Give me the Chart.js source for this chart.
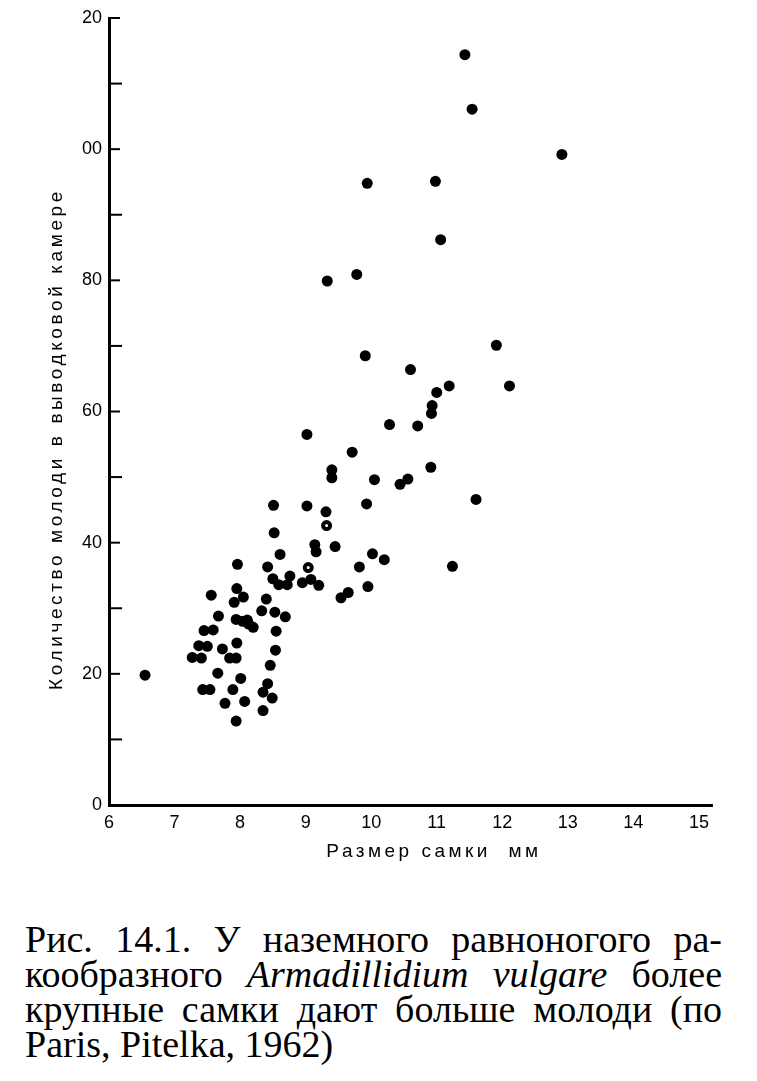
<!DOCTYPE html>
<html>
<head>
<meta charset="utf-8">
<script src="https://cdn.jsdelivr.net/npm/chart.js@4.4.1/dist/chart.umd.min.js"></script>
<style>
    body { margin: 0; background: #fff; }
    #pagina { position: relative; width: 757px; height: 1081px; }
    #caixaGrafico { position: absolute; left: 0; top: 0; width: 757px; height: 880px; }
    .legenda {
        position: absolute; left: 25px; top: 922px; width: 697px;
        font-family: 'Liberation Serif', serif; font-size: 38px; line-height: 35px; color: #000;
    }
    .linha { text-align: justify; text-align-last: justify; }
</style>
</head>
<body>
<div id="pagina">
    <div id="caixaGrafico"><canvas id="grafico"></canvas></div>
    <div class="legenda">
        <div class="linha">Рис. 14.1. У наземного равноногого ра-</div>
        <div class="linha">кообразного <i>Armadillidium vulgare</i> более</div>
        <div class="linha">крупные самки дают больше молоди (по</div>
        <div>Paris, Pitelka, 1962)</div>
    </div>
</div>
<script>
// tamanho da femea (mm) e numero de filhotes na camara de incubacao
const tamanho = [
    11.43, 11.54, 12.91, 9.94, 10.98, 11.06, 9.33, 9.78, 11.91, 9.91,
    10.6, 11.19, 12.11, 11.0, 10.93, 10.92, 10.28, 10.71, 9.02, 9.71,
    10.91, 9.4, 9.4, 10.05, 10.56, 10.44, 9.93, 11.6, 8.51, 9.02,
    9.31, 8.52, 9.14, 9.16, 9.45, 8.61, 10.02, 10.2, 9.82, 11.24,
    8.42, 8.5, 8.59, 8.76, 8.72, 8.95, 9.2, 9.95, 9.65, 9.54,
    8.4, 7.96, 7.95, 8.05, 7.91, 7.56, 8.33, 8.53, 8.69, 7.67,
    7.94, 8.04, 8.11, 8.13, 8.2, 8.55, 7.45, 7.59, 7.95, 7.37,
    7.5, 7.73, 8.54, 7.27, 7.41, 7.84, 7.94, 8.46, 6.55, 7.66,
    8.01, 8.42, 7.43, 7.54, 7.89, 8.35, 8.49, 7.77, 8.07, 8.35,
    7.94, 9.08
];
const filhotes = [
    114.4, 106.1, 99.2, 94.8, 95.1, 86.2, 79.9, 80.9, 70.1, 68.5,
    66.4, 63.9, 63.9, 62.9, 60.9, 59.7, 58.0, 57.8, 56.5, 53.8,
    51.5, 51.1, 49.9, 49.6, 49.7, 48.9, 45.9, 46.6, 45.7, 45.6,
    44.7, 41.5, 39.7, 38.6, 39.4, 38.2, 38.3, 37.4, 36.3, 36.4,
    36.3, 34.5, 33.6, 34.9, 33.6, 33.9, 33.5, 33.3, 32.4, 31.6,
    31.4, 36.7, 33.0, 31.7, 30.9, 32.0, 29.6, 29.4, 28.7, 28.8,
    28.3, 28.0, 28.2, 27.6, 27.1, 26.5, 26.6, 26.7, 24.7, 24.3,
    24.2, 23.8, 23.6, 22.5, 22.4, 22.4, 22.4, 21.3, 19.8, 20.1,
    19.3, 18.5, 17.6, 17.6, 17.6, 17.2, 16.3, 15.5, 15.8, 14.4,
    12.8, 34.4
];
// pontos vazados
const tamanhoVazado = [9.32, 9.04];
const filhotesVazado = [42.6, 36.2];

const ticksX = [6, 7, 8, 9, 10, 11, 12, 13, 14, 15];
const rotulosX = ['6', '7', '8', '9', '10', '11', '12', '13', '14', '15'];
const ticksY = [0, 20, 40, 60, 80, 100, 120];
const rotulosY = ['0', '20', '40', '60', '80', '00', '20'];
const marcasMenoresY = [10, 30, 50, 70, 90, 110];

const tituloX = 'Размер самки  мм';
const tituloY = 'Количество молоди в выводковой камере';

Chart.defaults.font.family = "'Liberation Sans', sans-serif";
Chart.defaults.color = '#000';

// marcas para dentro do eixo Y e titulos dos eixos
const marcasEixo = {
    id: 'marcasEixo',
    afterDraw(chart) {
        const ctx = chart.ctx;
        const escalaY = chart.scales.y;
        const esquerda = chart.chartArea.left;
        ctx.save();
        ctx.strokeStyle = '#000';
        ctx.lineWidth = 2;
        ticksY.slice(1).forEach(function (v) {
            const py = escalaY.getPixelForValue(v);
            ctx.beginPath();
            ctx.moveTo(esquerda, py);
            ctx.lineTo(esquerda + 11, py);
            ctx.stroke();
        });
        marcasMenoresY.forEach(function (v) {
            const py = escalaY.getPixelForValue(v);
            ctx.beginPath();
            ctx.moveTo(esquerda, py);
            ctx.lineTo(esquerda + 13, py);
            ctx.stroke();
        });

        ctx.fillStyle = '#000';
        ctx.font = "19px 'Liberation Sans'";
        ctx.textAlign = 'center';
        ctx.textBaseline = 'middle';
        ctx.letterSpacing = '3.5px';
        ctx.fillText(tituloX, 434, 852);
        ctx.letterSpacing = '3.6px';
        ctx.translate(57, 439);
        ctx.rotate(-Math.PI / 2);
        ctx.fillText(tituloY, 0, 0);
        ctx.restore();
    }
};

const pontos = tamanho.map(function (x, i) { return { x: x, y: filhotes[i] }; });
const pontosVazados = tamanhoVazado.map(function (x, i) { return { x: x, y: filhotesVazado[i] }; });

const config = {
    type: 'scatter',
    data: {
        datasets: [
            {
                data: pontos,
                backgroundColor: '#000',
                borderWidth: 0,
                pointRadius: 5.5,
                pointHoverRadius: 5.5
            },
            {
                data: pontosVazados,
                backgroundColor: '#fff',
                borderColor: '#000',
                borderWidth: 4,
                pointRadius: 3.5,
                pointHoverRadius: 3.5
            }
        ]
    },
    options: {
        responsive: true,
        maintainAspectRatio: false,
        animation: false,
        layout: { padding: { top: 18, right: 45, left: 0, bottom: 0 } },
        plugins: {
            legend: { display: false },
            tooltip: { enabled: false }
        },
        scales: {
            x: {
                type: 'linear',
                min: 6,
                max: 15.2,
                grid: { display: false, drawTicks: false },
                border: { display: true, width: 3, color: '#000' },
                afterBuildTicks: function (s) { s.ticks = ticksX.map(function (v) { return { value: v }; }); },
                afterFit: function (s) { s.height = 75; },
                ticks: {
                    padding: 7,
                    font: { size: 18 },
                    callback: function (v, i) { return rotulosX[i]; }
                }
            },
            y: {
                type: 'linear',
                min: 0,
                max: 120,
                grid: { display: false, drawTicks: false },
                border: { display: true, width: 3, color: '#000' },
                afterBuildTicks: function (s) { s.ticks = ticksY.map(function (v) { return { value: v }; }); },
                afterFit: function (s) { s.width = 109; },
                ticks: {
                    padding: 7,
                    font: { size: 18 },
                    callback: function (v, i) { return rotulosY[i]; }
                }
            }
        }
    },
    plugins: [marcasEixo]
};

const grafico = new Chart(document.getElementById('grafico'), config);
</script>
</body>
</html>
